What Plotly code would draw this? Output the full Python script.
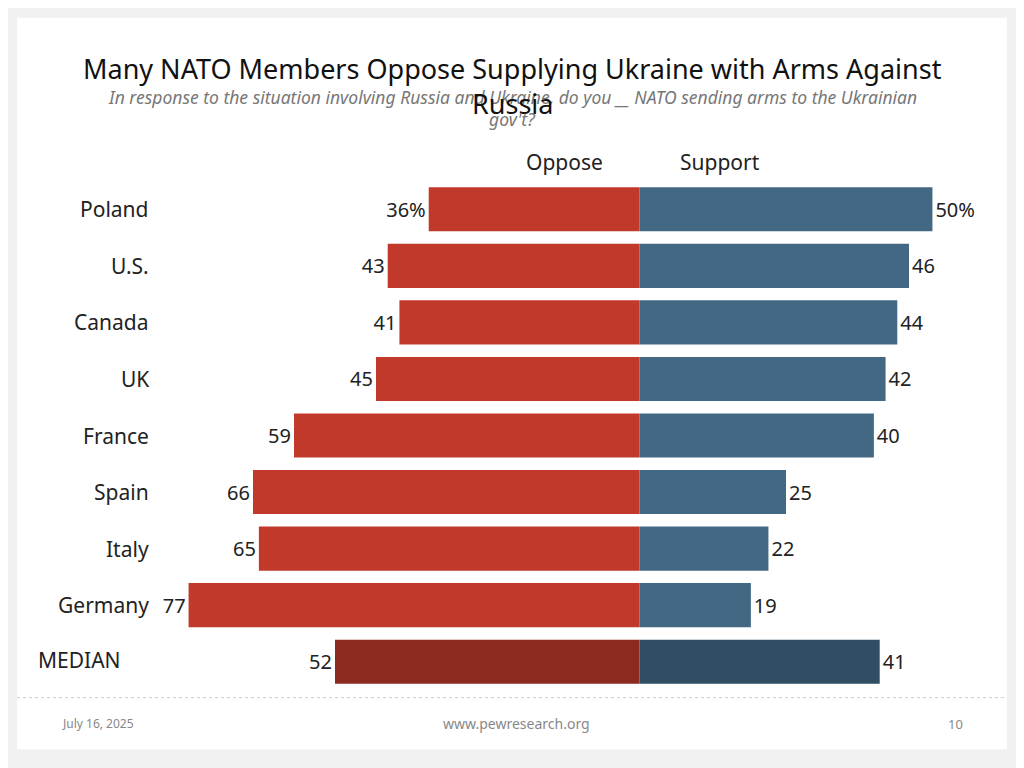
import plotly.graph_objects as go

countries = ["Poland", "U.S.", "Canada", "UK", "France", "Spain", "Italy", "Germany", "MEDIAN"]
oppose = [36, 43, 41, 45, 59, 66, 65, 77, 52]
support = [50, 46, 44, 42, 40, 25, 22, 19, 41]
oppose_colors = ["#c0392b"] * 8 + ["#8b2a1f"]
support_colors = ["#436883"] * 8 + ["#2f4d63"]

O = 8  # page body offset
L, R, T, B = 171, 991, 180.6, 690.4
def px(x): return (x - L) / (R - L)
def py(y): return (B - y) / (B - T)

FONT = "Noto Sans"
fig = go.Figure()
fig.add_trace(go.Bar(
    y=countries, x=[-v for v in oppose], orientation="h", width=0.78,
    marker=dict(color=oppose_colors, line=dict(width=0)),
    text=[f"{v}%" if i == 0 else str(v) for i, v in enumerate(oppose)],
    textposition="outside", textfont=dict(size=20, color="#222", family=FONT),
    cliponaxis=False, hoverinfo="skip"))
fig.add_trace(go.Bar(
    y=countries, x=support, orientation="h", width=0.78,
    marker=dict(color=support_colors, line=dict(width=0)),
    text=[f"{v}%" if i == 0 else str(v) for i, v in enumerate(support)],
    textposition="outside", textfont=dict(size=20, color="#222", family=FONT),
    cliponaxis=False, hoverinfo="skip"))

ann = []
for i, c in enumerate(countries[:-1]):
    ann.append(dict(x=px(151), y=i, xref="paper", yref="y", text=c, showarrow=False,
                    xanchor="right", yanchor="middle", font=dict(size=21, color="#222", family=FONT)))
ann.append(dict(x=px(36), y=py(660), xref="paper", yref="paper", text="MEDIAN", showarrow=False,
                xanchor="left", yanchor="middle", font=dict(size=21, color="#222", family=FONT)))
extra = [
    dict(x=px(512), y=py(68), text="Many NATO Members Oppose Supplying Ukraine with Arms Against",
         font=dict(size=27, color="#111", family=FONT)),
    dict(x=px(512), y=py(96), text="<i>In response to the situation involving Russia and Ukraine, do you __ NATO sending arms to the Ukrainian</i>",
         font=dict(size=17.5, color="#777", family=FONT)),
    dict(x=px(512), y=py(103), text="Russia", font=dict(size=27, color="#111", family=FONT)),
    dict(x=px(512), y=py(119), text="<i>gov't?</i>", font=dict(size=17.5, color="#777", family=FONT)),
    dict(x=px(564), y=py(162), text="Oppose", font=dict(size=21, color="#222", family=FONT)),
    dict(x=px(720), y=py(162), text="Support", font=dict(size=21, color="#222", family=FONT)),
    dict(x=px(98), y=py(724), text="July 16, 2025", font=dict(size=12, color="#888", family=FONT)),
    dict(x=px(516), y=py(724), text="www.pewresearch.org", font=dict(size=14, color="#888", family=FONT)),
    dict(x=px(955), y=py(724), text="10", font=dict(size=13, color="#888", family=FONT)),
]
for a in extra:
    a.update(xref="paper", yref="paper", showarrow=False, xanchor="center", yanchor="middle")
ann += extra

shapes = [
    dict(type="rect", xref="paper", yref="paper", x0=px(17), x1=px(1007), y0=py(17), y1=py(750),
         fillcolor="white", line=dict(width=0), layer="below"),
    dict(type="line", xref="paper", yref="paper", x0=px(17), x1=px(1007), y0=py(698), y1=py(698),
         line=dict(color="#cccccc", width=1, dash="dot")),
]

fig.update_layout(
    width=1024, height=768, autosize=False,
    margin=dict(l=L - O, r=1024 - R + O, t=T - O, b=768 - B + O, pad=0),
    paper_bgcolor="#f0f0f0", plot_bgcolor="rgba(0,0,0,0)",
    barmode="relative", bargap=0.22, showlegend=False,
    xaxis=dict(range=[-80, 60], visible=False, fixedrange=True),
    yaxis=dict(autorange=False, range=[8.5, -0.5], visible=False, fixedrange=True),
    annotations=ann, shapes=shapes, font=dict(family=FONT),
)
fig.write_html("out.html", config={"displayModeBar": False})
